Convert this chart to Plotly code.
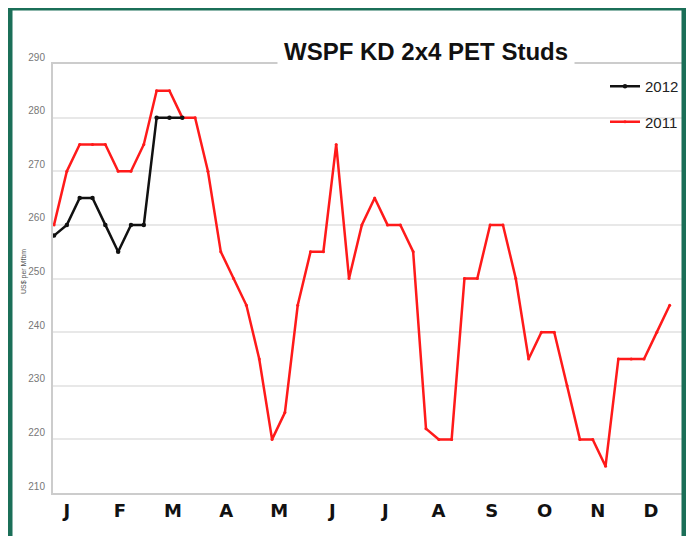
import plotly.graph_objects as go

# ---- data ----
months = ["J", "F", "M", "A", "M", "J", "J", "A", "S", "O", "N", "D"]
weeks_2011 = list(range(49))
price_2011 = [260, 270, 275, 275, 275, 270, 270, 275, 285, 285, 280, 280, 270,
              255, 250, 245, 235, 220, 225, 245, 255, 255, 275, 250, 260, 265,
              260, 260, 255, 222, 220, 220, 250, 250, 260, 260, 250, 235, 240,
              240, 230, 220, 220, 215, 235, 235, 235, 240, 245]
weeks_2012 = list(range(11))
price_2012 = [258, 260, 265, 265, 260, 255, 260, 260, 280, 280, 280]
y_ticks = [210, 220, 230, 240, 250, 260, 270, 280, 290]

# page body has an 8px margin; work in window pixels and convert
OFF = 8
W, H = 694 - OFF, 536 - OFF
PL, PR, PT, PB = 53, 687, 64, 493          # plot area in window pixels
ML, MR, MT, MB = PL - OFF, W - (PR - OFF), PT - OFF, H - (PB - OFF)
PW, PH = PR - PL, PB - PT


def px_x(p):
    return (p - PL) / PW


def px_y(p):
    return (PB - p) / PH


month_pos = [1.0 + 4.14 * k for k in range(12)]

fig = go.Figure()
fig.add_trace(go.Scatter(
    x=weeks_2011, y=price_2011, name="2011", mode="lines+markers",
    line=dict(color="#ff1a1a", width=2.5),
    marker=dict(color="#ff1a1a", size=3),
    legendgroup="a", legendrank=2))
fig.add_trace(go.Scatter(
    x=weeks_2012, y=price_2012, name="2012", mode="lines+markers",
    line=dict(color="#111111", width=2.5),
    marker=dict(color="#111111", size=4.5),
    legendgroup="b", legendrank=1))

fig.update_layout(
    width=W, height=H,
    margin=dict(l=ML, r=MR, t=MT, b=MB, autoexpand=False),
    paper_bgcolor="white", plot_bgcolor="white",
    font=dict(family="Liberation Sans, Arial, sans-serif", color="#222"),
    showlegend=True,
    legend=dict(x=px_x(605), y=px_y(70), xanchor="left", yanchor="top",
                bgcolor="rgba(0,0,0,0)", font=dict(size=15, color="#222"),
                tracegroupgap=13),
    xaxis=dict(range=[-0.08, 49.35], tickmode="array", tickvals=month_pos,
               ticktext=months, showgrid=False, zeroline=False,
               showline=True, linecolor="#cccccc", linewidth=2, mirror=True,
               ticks="", automargin=False,
               tickfont=dict(family="DejaVu Sans, sans-serif",
                             size=18, color="#111", weight="bold"),
               fixedrange=True),
    yaxis=dict(range=[210, 290], tickmode="array", tickvals=y_ticks,
               showgrid=True, gridcolor="#e8e8e8", gridwidth=2,
               zeroline=False, showline=True, linecolor="#cccccc",
               linewidth=2, mirror=True, ticks="", automargin=False,
               tickfont=dict(size=10, color="#777"), ticklabelshift=-7,
               ticklabelstandoff=4),
)

# title in a white box breaking the top frame line
fig.add_annotation(
    text="<b>WSPF KD 2x4 PET Studs</b>", xref="paper", yref="paper",
    x=px_x(425.5), y=px_y(51), xanchor="center", yanchor="middle",
    showarrow=False, font=dict(size=24, color="#111"),
    bgcolor="white", borderpad=6)

# y axis title
fig.add_annotation(
    text="US$ per Mfbm", xref="paper", yref="paper",
    x=px_x(24), y=px_y(272), xanchor="center", yanchor="middle",
    textangle=-90, showarrow=False, font=dict(size=7, color="#555"))

# green outer frame, drawn as filled bars (window pixels)
GREEN = "#1b6f58"
for (x0, x1, y0, y1) in [(7.5, 12.5, 5, 545),      # left
                         (681.5, 687, 5, 545),     # right
                         (7.5, 687, 5, 10.5)]:     # top
    fig.add_shape(type="rect", xref="paper", yref="paper",
                  x0=px_x(x0), x1=px_x(x1), y0=px_y(y1), y1=px_y(y0),
                  fillcolor=GREEN, line=dict(width=0), layer="above")

fig.write_html("out.html")
